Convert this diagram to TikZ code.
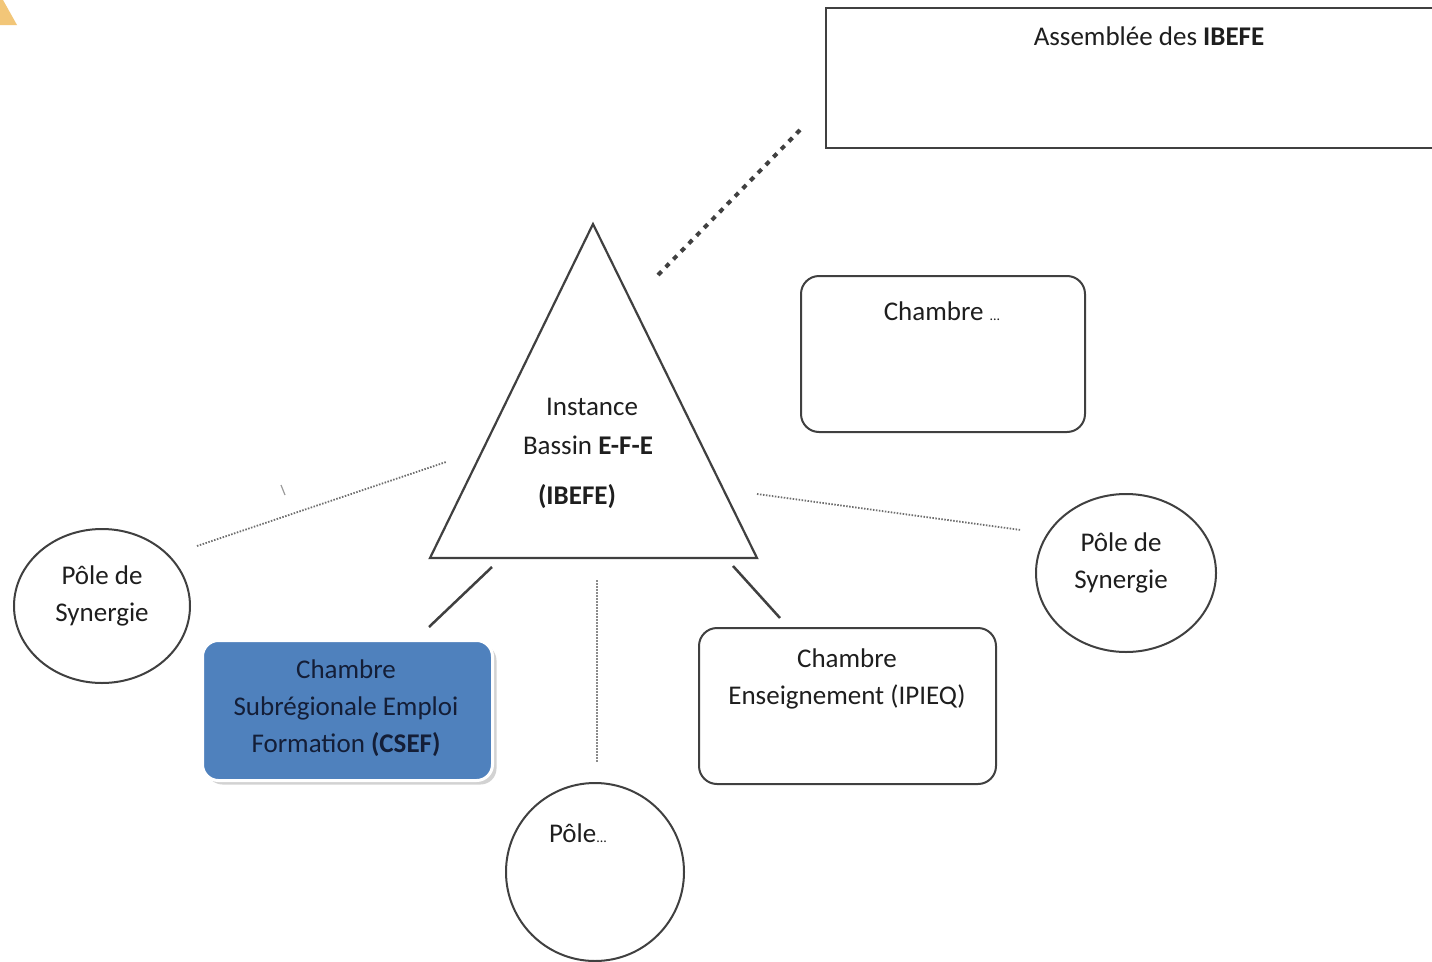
\documentclass[tikz,border=0pt]{standalone}
\usepackage{fontspec}
\setmainfont{Carlito}
\usetikzlibrary{shapes.geometric,shadows}
\definecolor{edgegray}{RGB}{64,64,64}
\definecolor{dotgray}{RGB}{110,110,110}
\definecolor{blueFill}{RGB}{79,129,189}
\definecolor{navy}{RGB}{20,30,55}
\definecolor{txt}{RGB}{30,30,30}
\definecolor{orangeTri}{RGB}{242,198,120}
\tikzset{
  box/.style={draw=edgegray, line width=2, rounded corners=18, fill=white},
  sharpbox/.style={draw=edgegray, line width=2.2},
  pole/.style={ellipse, draw=edgegray, line width=2},
  lbl/.style={text=txt, font=\fontsize{27}{37}\selectfont, align=center, inner sep=0},
  solidconn/.style={draw=edgegray, line width=2.5},
  dotconn/.style={draw=dotgray, line width=1.8, dash pattern=on 1.5 off 1.5},
  bigdots/.style={draw=edgegray, line width=4, dash pattern=on 5 off 6},
}
\begin{document}
\begin{tikzpicture}[x=1pt,y=-1pt]
\useasboundingbox (0,0) rectangle (1432,961);
\fill[white] (0,0) rectangle (1432,961);
% corner mark
\fill[orangeTri] (0,0) -- (3,0) -- (17,25) -- (0,25) -- cycle;

% Assemblee box
\draw[sharpbox] (1440,8) -- (826,8) -- (826,148) -- (1440,148);
\node (asm) [lbl] at (1149,36) {Assemblée des \textbf{IBEFE}};
\coordinate (asmend) at (800,130);
\coordinate (triend) at (658,275);
\draw[bigdots] (triend) -- (asmend);

% triangle
\coordinate (apex) at (593,224);
\coordinate (bl) at (430,558);
\coordinate (br) at (757,558);
\draw[draw=edgegray, line width=2.2, line join=miter] (apex) -- (bl) -- (br) -- cycle;
\node (t1) [lbl] at (592,407) {Instance};
\node (t2) [lbl] at (588,445) {Bassin \textbf{E-F-E}};
\node (t3) [lbl] at (577,497) {\textbf{(IBEFE)}};

% Chambre ... box
\node (chx) [box, minimum width=284, minimum height=156, anchor=north west] at (800,275) {};
\node (chxl) [lbl] at (942,311) {Chambre \fontsize{14}{16}\selectfont...};

% poles
\node (pl) [pole, minimum width=176, minimum height=154] at (102,606) {};
\node (pll) [lbl] at (102,596) {Pôle de\\Synergie};
\node (pr) [pole, minimum width=180, minimum height=158] at (1126,573) {};
\node (prl) [lbl] at (1121,563) {Pôle de\\Synergie};
\node (pb) [pole, minimum width=178, minimum height=178] at (595,872) {};
\node (pbl) [lbl] at (578,833) {Pôle\fontsize{14}{16}\selectfont...};

% blue box
\node (csef) [draw=white, line width=3, fill=blueFill, rounded corners=16,
  minimum width=290, minimum height=140, anchor=north west,
  drop shadow={opacity=0.35, shadow xshift=4pt, shadow yshift=-4pt}] at (201,639) {};
\node (csefl) [lbl, text=navy] at (346,708) {Chambre\\Subrégionale Emploi\\Formation \textbf{(CSEF)}};

% enseignement box
\node (ens) [box, minimum width=297, minimum height=156, anchor=north west] at (698,627) {};
\node (ensl) [lbl] at (847,679) {Chambre\\Enseignement (IPIEQ)};

% connectors
\coordinate (lA) at (197,546);
\coordinate (lB) at (446,462);
\draw[dotconn] (lA) -- (lB);
\draw[draw=dotgray!70, line width=1.2] (281,485) -- (285,495);
\coordinate (rA) at (757,494);
\coordinate (rB) at (1021,530);
\draw[dotconn] (rA) -- (rB);
\coordinate (s1a) at (492,567);
\coordinate (s1b) at (429,627);
\draw[solidconn] (s1a) -- (s1b);
\coordinate (s2a) at (733,566);
\coordinate (s2b) at (780,618);
\draw[solidconn] (s2a) -- (s2b);
\coordinate (vA) at (597,580);
\coordinate (vB) at (597,763);
\draw[dotconn, line width=2.5, dotgray!80] (vA) -- (vB);
\end{tikzpicture}
\end{document}
